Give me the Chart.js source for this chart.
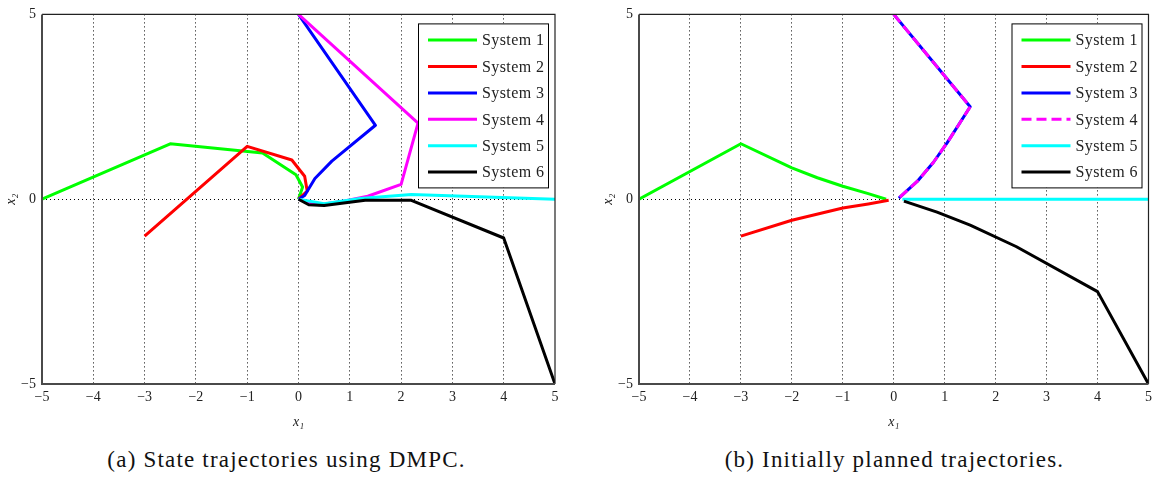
<!DOCTYPE html>
<html lang="en">
<head>
<meta charset="UTF-8">
<title>State trajectories</title>
<script src="https://cdn.jsdelivr.net/npm/chart.js@4.4.0/dist/chart.umd.min.js"></script>
<style>
    body {
        margin: 0;
        background: #fff;
        width: 1157px;
        height: 481px;
        position: relative;
        overflow: hidden;
        font-family: "Liberation Serif", serif;
    }
    .panel { position: absolute; top: 0; height: 440px; }
    #leftPanel { left: 0; width: 597px; }
    #rightPanel { left: 597px; width: 560px; }
    .caption {
        position: absolute;
        top: 447px;
        font-size: 23px;
        line-height: 26px;
        letter-spacing: 1.2px;
        text-align: center;
        white-space: nowrap;
        color: #111;
    }
</style>
</head>
<body>
<div class="panel" id="leftPanel"><canvas id="dmpcChart"></canvas></div>
<div class="panel" id="rightPanel"><canvas id="plannedChart"></canvas></div>
<div class="caption" style="left:30px;width:513px;">(a) State trajectories using DMPC.</div>
<div class="caption" style="left:639px;width:511px;">(b) Initially planned trajectories.</div>

<script>
// tick values
const xTickValues = [-5, -4, -3, -2, -1, 0, 1, 2, 3, 4, 5];
const yTickValues = [-5, 0, 5];
const systemNames = ['System 1', 'System 2', 'System 3', 'System 4', 'System 5', 'System 6'];

// (a) state trajectories using DMPC, [x1, x2] pairs
const dmpcSys1 = [[-5, 0], [-2.5, 1.5], [-0.7, 1.25], [-0.05, 0.66], [0.08, 0.33], [0, 0]];
const dmpcSys2 = [[-3, -1], [-1, 1.43], [-0.13, 1.06], [0.12, 0.62], [0.17, 0.22], [0, 0]];
const dmpcSys3 = [[0, 5], [1.5, 2], [0.65, 1.03], [0.32, 0.56], [0.12, 0.1], [0, 0]];
const dmpcSys4 = [[0, 5], [2.33, 2.06], [2.0, 0.4], [1.35, 0.08], [0.9, -0.05], [0.4, -0.15], [0, 0]];
const dmpcSys5 = [[5, 0], [2.2, 0.13], [1.2, 0.02], [0.5, -0.12], [0, 0]];
const dmpcSys6 = [[5, -5], [4, -1.05], [2.2, -0.03], [1.3, -0.03], [0.5, -0.17], [0.2, -0.15], [0, 0]];

// (b) initially planned trajectories
const planSys1 = [[-5, 0], [-3, 1.5], [-2, 0.85], [-1.5, 0.58], [-1, 0.35], [-0.5, 0.15], [-0.15, 0]];
const planSys2 = [[-3, -1], [-2, -0.57], [-1, -0.24], [-0.5, -0.13], [-0.1, -0.03]];
const planSys3 = [[0, 5], [1.5, 2.5], [1.05, 1.53], [0.78, 1.0], [0.46, 0.48], [0.1, 0.03]];
const planSys4 = [[0, 5], [1.5, 2.5], [1.05, 1.53], [0.78, 1.0], [0.46, 0.48], [0.1, 0.03]];
const planSys5 = [[0.17, 0], [5, 0]];
const planSys6 = [[0.2, -0.05], [0.85, -0.35], [1.5, -0.7], [2.4, -1.28], [4, -2.5], [5, -5]];

const colors = ['#00ff00', '#ff0000', '#0000ff', '#ff00ff', '#00ffff', '#000000'];

function buildDatasets(series, dashedIndex) {
    return series.map((pairs, i) => ({
        label: systemNames[i],
        data: pairs.map(p => ({ x: p[0], y: p[1] })),
        borderColor: colors[i],
        backgroundColor: colors[i],
        borderWidth: 3,
        borderDash: i === dashedIndex ? [10, 5] : [],
        borderJoinStyle: 'round',
        pointRadius: 0,
        fill: false,
        tension: 0,
        order: 5 - i // later systems drawn on top, like matlab
    }));
}

// frame round the plot area + legend box in the upper right corner
const boxAndLegend = {
    id: 'boxAndLegend',
    afterDraw(chart) {
        const { ctx, chartArea } = chart;
        const { left, right, top, bottom } = chartArea;
        ctx.save();
        ctx.strokeStyle = '#222';
        ctx.lineWidth = 1.2;
        ctx.beginPath();
        ctx.moveTo(left, top);
        ctx.lineTo(right, top);
        ctx.lineTo(right, bottom);
        ctx.stroke();
        ctx.strokeStyle = '#4a4a4a';
        ctx.lineWidth = 2;
        ctx.beginPath();
        ctx.moveTo(left, top);
        ctx.lineTo(left, bottom);
        ctx.lineTo(right, bottom);
        ctx.stroke();

        const w = 130, h = 164;
        const bx = right - 7 - w;
        const by = top + 9;
        ctx.fillStyle = '#fff';
        ctx.fillRect(bx, by, w, h);
        ctx.strokeStyle = '#000';
        ctx.lineWidth = 1;
        ctx.strokeRect(bx + 0.5, by + 0.5, w, h);

        ctx.font = '16px "Liberation Serif"';
        ctx.letterSpacing = '0.4px';
        ctx.textBaseline = 'middle';
        ctx.fillStyle = '#222';
        chart.data.datasets.forEach((ds, i) => {
            const y = by + 16.7 + i * 26.4;
            ctx.beginPath();
            ctx.setLineDash(ds.borderDash || []);
            ctx.strokeStyle = ds.borderColor;
            ctx.lineWidth = 3;
            ctx.moveTo(bx + 10, y);
            ctx.lineTo(bx + 59, y);
            ctx.stroke();
            ctx.setLineDash([]);
            ctx.fillText(ds.label, bx + 64, y + 1);
        });
        ctx.restore();
    }
};

function makeChart(id, series, dashedIndex, rightPad) {
    const gridColor = c => (c.tick && Math.abs(c.tick.value) === 5) ? 'rgba(0,0,0,0)' : '#000';
    const tickFont = { family: '"Liberation Serif"', size: 14 };
    const titleFont = { family: '"Liberation Serif"', size: 14, style: 'italic' };
    const minus = v => String(v).replace('-', '\u2212');
    return new Chart(document.getElementById(id), {
        type: 'line',
        data: { datasets: buildDatasets(series, dashedIndex) },
        options: {
            responsive: true,
            maintainAspectRatio: false,
            animation: false,
            layout: { padding: { top: 5, right: rightPad, left: 0, bottom: 0 } },
            plugins: { legend: { display: false }, tooltip: { enabled: false } },
            scales: {
                x: {
                    type: 'linear',
                    min: -5,
                    max: 5,
                    afterBuildTicks: s => { s.ticks = xTickValues.map(v => ({ value: v })); },
                    afterFit: s => { s.height = 56; },
                    ticks: { padding: 5, font: tickFont, color: '#222', callback: minus },
                    grid: { color: gridColor, lineWidth: 1, drawTicks: false },
                    border: { display: false, dash: [1, 3] },
                    title: { display: true, text: 'x\u2081', font: titleFont, color: '#222', padding: { top: 0, bottom: 9 } }
                },
                y: {
                    type: 'linear',
                    min: -5,
                    max: 5,
                    afterBuildTicks: s => { s.ticks = yTickValues.map(v => ({ value: v })); },
                    afterFit: s => { s.width = 42; },
                    ticks: { padding: 6, font: tickFont, color: '#222', callback: minus },
                    grid: { color: gridColor, lineWidth: 1, drawTicks: false },
                    border: { display: false, dash: [1, 3] },
                    title: { display: true, text: 'x\u2082', font: titleFont, color: '#222', padding: { top: 3, bottom: 0 } }
                }
            }
        },
        plugins: [boxAndLegend]
    });
}

makeChart('dmpcChart', [dmpcSys1, dmpcSys2, dmpcSys3, dmpcSys4, dmpcSys5, dmpcSys6], -1, 42);
makeChart('plannedChart', [planSys1, planSys2, planSys3, planSys4, planSys5, planSys6], 3, 7);
</script>
</body>
</html>
